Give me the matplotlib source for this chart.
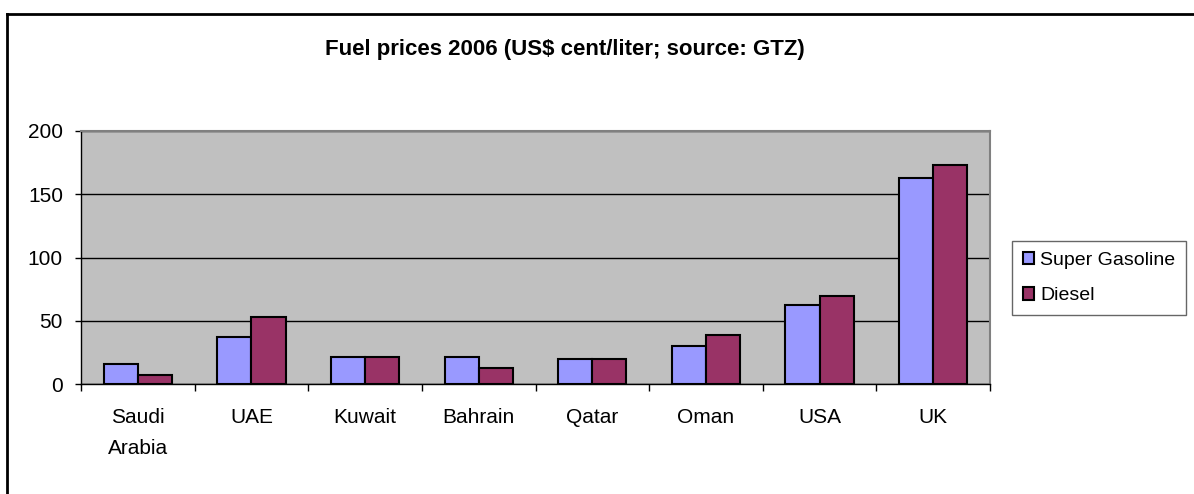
import numpy as np
import matplotlib
matplotlib.use('Agg')
import matplotlib.pyplot as plt
from matplotlib.lines import Line2D

# data (US$ cent/liter)
countries = ['Saudi\nArabia', 'UAE', 'Kuwait', 'Bahrain', 'Qatar', 'Oman', 'USA', 'UK']
gasoline = [16, 37, 21, 21, 19.5, 30, 62.5, 162.5]
diesel = [7, 53, 21, 12.5, 19.5, 39, 69.5, 173.5]

plt.rcParams['font.family'] = ['Liberation Sans', 'DejaVu Sans']

W, H = 1194, 494
fig = plt.figure(figsize=(W / 100, H / 100), dpi=100)
ax = fig.add_axes([81 / W, 1 - 384 / H, (990 - 81) / W, (384 - 131) / H])
ax.set_facecolor('#C0C0C0')

x = np.arange(len(countries))
bw = 0.3
ax.bar(x - bw / 2, gasoline, width=bw, color='#9999FF', edgecolor='black',
       linewidth=1.5, label='Super Gasoline', zorder=3)
ax.bar(x + bw / 2, diesel, width=bw, color='#993366', edgecolor='black',
       linewidth=1.5, label='Diesel', zorder=3)

ax.set_xlim(-0.5, len(countries) - 0.5)
ax.set_ylim(0, 200)
ax.set_yticks([0, 50, 100, 150, 200])
ax.yaxis.grid(True, color='black', linewidth=1, zorder=1)
ax.set_axisbelow(True)

# ticks between categories, labels centered
ax.set_xticks(np.arange(-0.5, len(countries), 1.0))
ax.set_xticklabels([])
ax.set_xticks(x, minor=True)
ax.set_xticklabels(countries, minor=True, fontsize=15, linespacing=1.85, va='top')
ax.tick_params(axis='x', which='major', direction='out', length=5, width=1, color='black')
ax.tick_params(axis='x', which='minor', length=0, pad=17)
ax.tick_params(axis='y', direction='out', length=4, width=1, labelsize=15, pad=9)

for s in ['top', 'right']:
    ax.spines[s].set_color('#808080')
    ax.spines[s].set_linewidth(1.5)
for s in ['left', 'bottom']:
    ax.spines[s].set_color('black')
    ax.spines[s].set_linewidth(1)

fig.text(565 / W, 1 - 50 / H, 'Fuel prices 2006 (US$ cent/liter; source: GTZ)',
         ha='center', va='center', fontsize=16, fontweight='bold')

leg = ax.legend(loc='center left', bbox_to_anchor=(1012 / W, 1 - 278 / H),
                bbox_transform=fig.transFigure, borderaxespad=0, fontsize=14,
                handlelength=0.6, handleheight=0.6, handletextpad=0.3,
                labelspacing=0.95, borderpad=0.55, fancybox=False)
leg.get_frame().set_edgecolor('#404040')
leg.get_frame().set_linewidth(1)

# outer chart border (top and left visible)
fig.add_artist(Line2D([7 / W, 1], [1 - 14 / H, 1 - 14 / H], color='black', linewidth=2))
fig.add_artist(Line2D([7 / W, 7 / W], [0, 1 - 14 / H], color='black', linewidth=2))

fig.savefig('out.png', dpi=100)
